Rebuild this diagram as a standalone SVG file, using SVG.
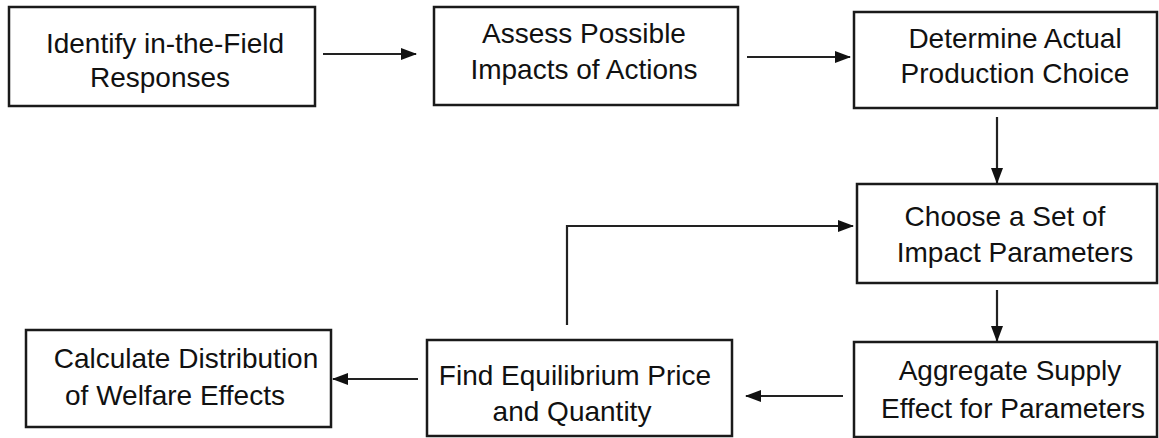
<svg xmlns="http://www.w3.org/2000/svg" width="1159" height="438" viewBox="0 0 1159 438">
<style>
.box{fill:#fff;stroke:#1a1a1a;stroke-width:2.5}
.t{font-family:"Liberation Sans",Arial,sans-serif;font-size:28px;fill:#111;text-anchor:middle}
.c{fill:none;stroke:#222;stroke-width:2.2;marker-end:url(#ah)}
</style>
<defs>
<marker id="ah" markerUnits="userSpaceOnUse" markerWidth="16" markerHeight="12" refX="15" refY="6" orient="auto">
<path d="M0,0 L16,6 L0,12 Z" fill="#111"/>
</marker>
</defs>
<rect width="1159" height="438" fill="#fff"/>
<g id="n1"><rect class="box" x="9" y="7" width="306" height="99"/>
<text class="t" x="165" y="53">Identify in-the-Field</text><text class="t" x="160" y="87">Responses</text></g>
<g id="n2"><rect class="box" x="434" y="7" width="304" height="98"/>
<text class="t" x="584" y="43">Assess Possible</text><text class="t" x="584" y="79">Impacts of Actions</text></g>
<g id="n3"><rect class="box" x="854" y="12" width="303" height="96"/>
<text class="t" x="1015" y="48">Determine Actual</text><text class="t" x="1015" y="83">Production Choice</text></g>
<g id="n4"><rect class="box" x="857" y="184" width="300" height="99"/>
<text class="t" x="1005" y="226">Choose a Set of</text><text class="t" x="1015" y="262">Impact Parameters</text></g>
<g id="n5"><rect class="box" x="854" y="342" width="303" height="95"/>
<text class="t" x="1010" y="380">Aggregate Supply</text><text class="t" x="1013" y="418">Effect for Parameters</text></g>
<g id="n6"><rect class="box" x="427" y="340" width="305" height="96"/>
<text class="t" x="575" y="385">Find Equilibrium Price</text><text class="t" x="572" y="421">and Quantity</text></g>
<g id="n7"><rect class="box" x="26" y="330" width="305" height="97"/>
<text class="t" x="186" y="368">Calculate Distribution</text><text class="t" x="175" y="405">of Welfare Effects</text></g>
<g id="connectors">
<path class="c" d="M323,54 L416,54"/>
<path class="c" d="M747,57 L850,57"/>
<path class="c" d="M997,117 L997,183"/>
<path class="c" d="M997,290 L997,341"/>
<path class="c" d="M843,396 L746,396"/>
<path class="c" d="M418,379 L333,379"/>
<path class="c" d="M567,325 L567,226 L853,226"/>
</g>
</svg>
